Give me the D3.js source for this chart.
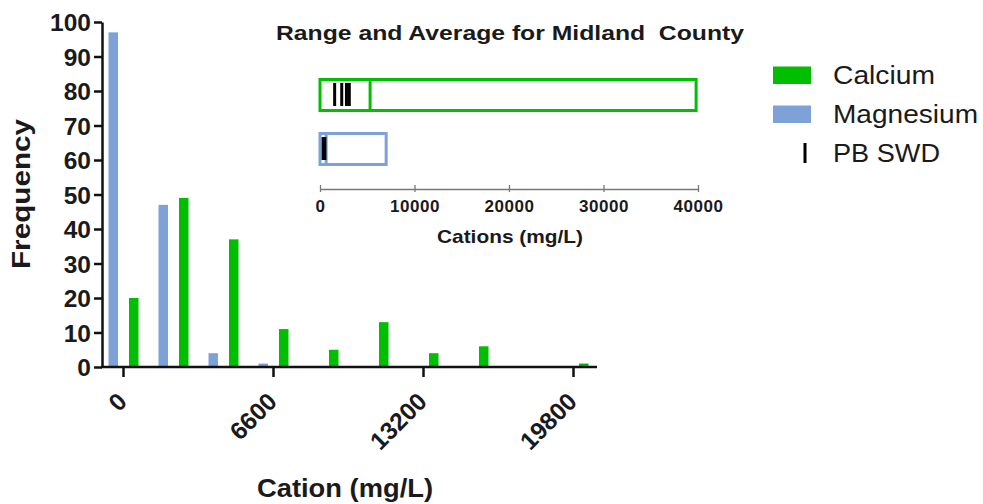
<!DOCTYPE html>
<html><head><meta charset="utf-8">
<script src="https://cdn.jsdelivr.net/npm/d3@7"></script>
<style>
body{margin:0;background:#fff}
svg{display:block}
text{font-family:"Liberation Sans",Arial,Helvetica,sans-serif}
</style>
</head><body>
<svg id="chart" width="983" height="504"></svg>
<script>
// ---------- data ----------
const bins = [0, 2200, 4400, 6600, 8800, 11000, 13200, 15400, 17600, 19800];
const calcium = [20, 49, 37, 11, 5, 13, 4, 6, 0, 1];
const magnesium = [97, 47, 4, 1, 0, 0, 0, 0, 0, 0];
const xTickValues = [0, 6600, 13200, 19800];
const yTickValues = [0, 10, 20, 30, 40, 50, 60, 70, 80, 90, 100];

// inset: range and average
const rangeSeries = ["Calcium", "Magnesium"];
const rangeMin = [0, 0];
const rangeMax = [39800, 7000];
const rangeMean = [5300, 650];
const pbSwdCalcium = [1550, 2300, 2800, 3100];
const pbSwdMagnesium = [330, 520];
const insetTickValues = [0, 10000, 20000, 30000, 40000];

const legendLabels = ["Calcium", "Magnesium", "PB SWD"];

// ---------- styles ----------
const GREEN = "#00bf00";
const BLUE = "#7ea2d8";

const svg = d3.select("#chart");

// ---------- main histogram ----------
const x = d3.scaleLinear().domain([0, 19800]).range([123, 573]);
const y = d3.scaleLinear().domain([0, 100]).range([367, 22]);

const barW = 9.5;
const g = svg.append("g");

g.selectAll("rect.mg").data(bins).join("rect")
  .attr("class", "mg")
  .attr("x", d => x(d) - 14.5)
  .attr("width", barW)
  .attr("y", (d, i) => y(magnesium[i]))
  .attr("height", (d, i) => y(0) - y(magnesium[i]))
  .attr("fill", BLUE);

g.selectAll("rect.ca").data(bins).join("rect")
  .attr("class", "ca")
  .attr("x", d => x(d) + 6)
  .attr("width", barW)
  .attr("y", (d, i) => y(calcium[i]))
  .attr("height", (d, i) => y(0) - y(calcium[i]))
  .attr("fill", GREEN);

// y axis
const yAxis = g.append("g").attr("transform", "translate(102,0)")
  .call(d3.axisLeft(y).tickValues(yTickValues).tickSizeInner(8).tickSizeOuter(0).tickPadding(3));
yAxis.select(".domain").attr("stroke", "#111").attr("stroke-width", 2.5);
yAxis.selectAll(".tick line").attr("stroke", "#111").attr("stroke-width", 2.5);
yAxis.selectAll(".tick text")
  .attr("font-size", 24.5).attr("font-weight", "bold").attr("fill", "#1a1a1a")
  .attr("dy", "0.36em");

// x axis
const xAxis = g.append("g").attr("transform", "translate(0,367)")
  .call(d3.axisBottom(x).tickValues(xTickValues).tickSizeInner(10).tickSizeOuter(0).tickFormat(d3.format("d")));
xAxis.select(".domain").remove();
xAxis.append("line").attr("x1", 101).attr("x2", 597).attr("y1", 0).attr("y2", 0)
  .attr("stroke", "#111").attr("stroke-width", 2.5);
xAxis.selectAll(".tick line").attr("stroke", "#111").attr("stroke-width", 2.5);
xAxis.selectAll(".tick text")
  .attr("font-size", 24.5).attr("font-weight", "bold").attr("fill", "#1a1a1a")
  .attr("x", 0).attr("y", 0).attr("dy", null)
  .attr("text-anchor", "end")
  .attr("transform", "translate(5,36) rotate(-45)");

// axis titles
svg.append("text").attr("transform", "translate(30,194) rotate(-90)")
  .attr("text-anchor", "middle").attr("font-size", 26).attr("font-weight", "bold")
  .attr("fill", "#1a1a1a").attr("textLength", 150).attr("lengthAdjust", "spacingAndGlyphs")
  .text("Frequency");
svg.append("text").attr("x", 345).attr("y", 497)
  .attr("text-anchor", "middle").attr("font-size", 26).attr("font-weight", "bold")
  .attr("fill", "#1a1a1a").attr("textLength", 176).attr("lengthAdjust", "spacingAndGlyphs")
  .text("Cation (mg/L)");

// ---------- inset ----------
const xi = d3.scaleLinear().domain([0, 40000]).range([320, 698]);
const yi = d3.scalePoint().domain(rangeSeries).range([95, 149]);
const boxH = 31;
const rangeColors = [GREEN, BLUE];

svg.append("text").attr("x", 276).attr("y", 40)
  .attr("font-size", 21).attr("font-weight", "bold").attr("fill", "#1a1a1a")
  .attr("xml:space", "preserve").style("white-space", "pre")
  .attr("textLength", 468).attr("lengthAdjust", "spacingAndGlyphs")
  .text("Range and Average for Midland  County");

const ig = svg.append("g");
ig.selectAll("rect.range").data(rangeSeries).join("rect")
  .attr("class", "range")
  .attr("x", (d, i) => xi(rangeMin[i]))
  .attr("width", (d, i) => xi(rangeMax[i]) - xi(rangeMin[i]))
  .attr("y", d => yi(d) - boxH / 2)
  .attr("height", boxH)
  .attr("fill", "none")
  .attr("stroke", (d, i) => rangeColors[i])
  .attr("stroke-width", 3);

// mean lines
ig.selectAll("line.mean").data(rangeSeries).join("line")
  .attr("class", "mean")
  .attr("x1", (d, i) => xi(rangeMean[i])).attr("x2", (d, i) => xi(rangeMean[i]))
  .attr("y1", d => yi(d) - boxH / 2).attr("y2", d => yi(d) + boxH / 2)
  .attr("stroke", (d, i) => rangeColors[i]).attr("stroke-width", 3);

// PB SWD lines
const pbLines = [
  ...pbSwdCalcium.map(v => ({s: "Calcium", v})),
  ...pbSwdMagnesium.map(v => ({s: "Magnesium", v}))
];
ig.selectAll("line.pb").data(pbLines).join("line")
  .attr("class", "pb")
  .attr("x1", d => xi(d.v)).attr("x2", d => xi(d.v))
  .attr("y1", d => yi(d.s) - 12).attr("y2", d => yi(d.s) + 11)
  .attr("stroke", "#000").attr("stroke-width", 3);

// inset axis
const iAxis = svg.append("g").attr("transform", "translate(0,189)")
  .call(d3.axisBottom(xi).tickValues(insetTickValues).tickSizeInner(3).tickSizeOuter(0).tickFormat(d3.format("d")));
iAxis.select(".domain").attr("stroke", "#777").attr("stroke-width", 1.3);
iAxis.selectAll(".tick line").attr("stroke", "#777").attr("stroke-width", 1.3);
iAxis.selectAll(".tick").append("line").attr("y1", 0).attr("y2", -4)
  .attr("stroke", "#777").attr("stroke-width", 1.3);
iAxis.selectAll(".tick text")
  .attr("font-size", 17).attr("font-weight", "bold").attr("fill", "#1a1a1a")
  .attr("y", 23).attr("dy", null).style("letter-spacing", "0.5px");

svg.append("text").attr("x", 510).attr("y", 243)
  .attr("text-anchor", "middle").attr("font-size", 18.5).attr("font-weight", "bold")
  .attr("fill", "#1a1a1a").attr("textLength", 146).attr("lengthAdjust", "spacingAndGlyphs")
  .text("Cations (mg/L)");

// ---------- legend ----------
const legendY = d3.scalePoint().domain(legendLabels).range([75, 153]);
const lg = svg.append("g");
const legendWidths = [102, 145, 107];
lg.selectAll("rect.sw").data(legendLabels.slice(0, 2)).join("rect")
  .attr("class", "sw")
  .attr("x", 773).attr("width", 38)
  .attr("y", d => legendY(d) - 8.5).attr("height", 17.5)
  .attr("fill", (d, i) => rangeColors[i]);
lg.append("line")
  .attr("x1", 805).attr("x2", 805)
  .attr("y1", legendY("PB SWD") - 10).attr("y2", legendY("PB SWD") + 10)
  .attr("stroke", "#000").attr("stroke-width", 3);
lg.selectAll("text").data(legendLabels).join("text")
  .attr("x", 833).attr("y", d => legendY(d) + 9)
  .attr("font-size", 25.5).attr("fill", "#1a1a1a")
  .attr("textLength", (d, i) => legendWidths[i]).attr("lengthAdjust", "spacingAndGlyphs")
  .text(d => d);
</script>
</body></html>
